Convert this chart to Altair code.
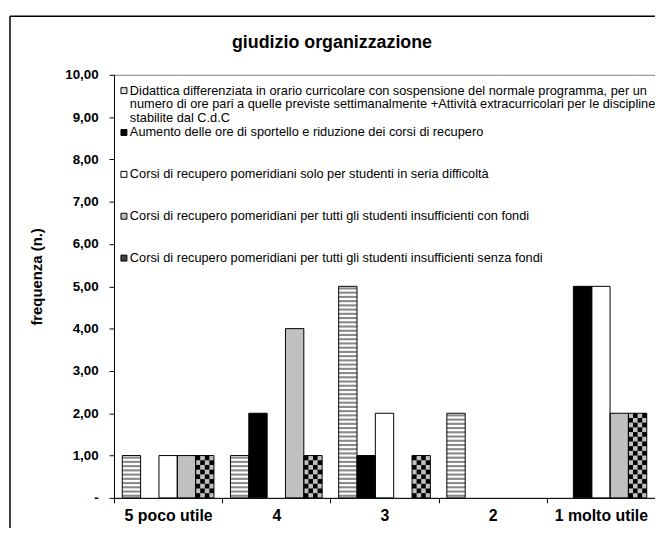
import altair as alt
import pandas as pd

# ---------------- data ----------------
categories = ["5 poco utile", "4", "3", "2", "1 molto utile"]
series = [
    "Didattica differenziata in orario curricolare con sospensione del normale programma, per un numero di ore pari a quelle previste settimanalmente +Attività extracurricolari per le discipline stabilite dal C.d.C",
    "Aumento delle ore di sportello e riduzione dei corsi di recupero",
    "Corsi di recupero pomeridiani solo per studenti in seria difficoltà",
    "Corsi di recupero pomeridiani per tutti gli studenti insufficienti con fondi",
    "Corsi di recupero pomeridiani per tutti gli studenti insufficienti senza fondi",
]
legend_labels = [
    "Didattica differenziata in orario curricolare con sospensione del normale programma, per un\n"
    "numero di ore pari a quelle previste settimanalmente +Attività extracurricolari per le discipline\n"
    "stabilite dal C.d.C",
    "Aumento delle ore di sportello e riduzione dei corsi di recupero",
    "Corsi di recupero pomeridiani solo per studenti in seria difficoltà",
    "Corsi di recupero pomeridiani per tutti gli studenti insufficienti con fondi",
    "Corsi di recupero pomeridiani per tutti gli studenti insufficienti senza fondi",
]
didattica = [1, 1, 5, 2, 0]
sportello = [0, 2, 1, 0, 5]
seria_difficolta = [1, 0, 2, 0, 5]
con_fondi = [1, 4, 0, 0, 2]
senza_fondi = [1, 1, 1, 0, 2]
y_ticks = [0, 1, 2, 3, 4, 5, 6, 7, 8, 9, 10]

values = [didattica, sportello, seria_difficolta, con_fondi, senza_fondi]

# ---------------- styles ----------------
base_colors = ["#ffffff", "#000000", "#ffffff", "#c0c0c0", "#c0c0c0"]
symbol_colors = ["#e4e4e4", "#000000", "#ffffff", "#c0c0c0", "#404040"]
FONT = "Liberation Sans"
W, H = 546, 427

rows = []
for s, vals in zip(series, values):
    for c, v in zip(categories, vals):
        rows.append({"cat": c, "series": s, "v": v})
df = pd.DataFrame(rows)
df = df[df.v > 0]

# striped pattern for the first series (derived from its values)
stripe_rows = []
for c, v in zip(categories, didattica):
    for k in range(int(round(v * 10))):
        stripe_rows.append({"cat": c, "series": series[0], "y0": k / 10 + 0.025, "y1": k / 10 + 0.075})
df_stripes = pd.DataFrame(stripe_rows)

# checker pattern for the last series (derived from its values)
subs = ["padL"] + [f"{i}_{j}" for i in range(len(series)) for j in range(4)] + ["padR"]
checker_rows = []
for c, v in zip(categories, senza_fondi):
    n = int(round(v * 9))
    for r in range(n):
        for j in range(4):
            if (r + j) % 2 == 0:
                checker_rows.append({"cat": c, "sub": f"4_{j}", "y0": r / 9, "y1": (r + 1) / 9})
df_checker = pd.DataFrame(checker_rows)

x_scale = alt.Scale(domain=categories, paddingInner=0, paddingOuter=0)
y_scale = alt.Scale(domain=[0, 10], nice=False, zero=True)
xoff_scale = alt.Scale(domain=series, paddingInner=0, paddingOuter=0.45)

x_axis = alt.Axis(
    title=None, tickBand="extent", labelAngle=0, labelFontSize=16, labelFontWeight="bold",
    labelFont=FONT, labelColor="black", labelPadding=5, tickSize=5, tickColor="black",
    domainColor="black", grid=False,
)
nb = "\u00a0"
y_axis = alt.Axis(
    values=y_ticks, grid=False, title="frequenza (n.)",
    labelExpr="datum.value == 0 ? '-" + nb * 6 + "' : replace(format(datum.value, '.2f'), '.', ',')",
    labelFontSize=13.5, labelFontWeight="bold", labelFont=FONT, labelColor="black",
    labelPadding=11, tickSize=5, tickColor="black", domainColor="black",
    titleFont=FONT, titleFontSize=15, titleFontWeight="bold", titleColor="black",
    titleX=-78, titleY=H / 2 - 10, titleAngle=270, titleAlign="center", titleBaseline="middle",
)

base = alt.Chart(df).mark_bar(strokeWidth=0).encode(
    x=alt.X("cat:N", scale=x_scale, axis=x_axis, sort=categories),
    xOffset=alt.XOffset("series:N", scale=xoff_scale, sort=series),
    y=alt.Y("v:Q", scale=y_scale, axis=y_axis),
    color=alt.Color("series:N", scale=alt.Scale(domain=series, range=base_colors), legend=None),
)

stripes = alt.Chart(df_stripes).mark_bar(color="#8a8a8a", strokeWidth=0).encode(
    x=alt.X("cat:N", scale=x_scale, sort=categories),
    xOffset=alt.XOffset("series:N", scale=xoff_scale, sort=series),
    y=alt.Y("y0:Q", scale=y_scale),
    y2="y1:Q",
)

checker = alt.Chart(df_checker).mark_bar(color="#000000", strokeWidth=0).encode(
    x=alt.X("cat:N", scale=x_scale, sort=categories),
    xOffset=alt.XOffset("sub:N", scale=alt.Scale(domain=subs, paddingInner=0, paddingOuter=0.8), sort=subs),
    y=alt.Y("y0:Q", scale=y_scale),
    y2="y1:Q",
)

outline = alt.Chart(df).mark_bar(fillOpacity=0, stroke="black", strokeWidth=1).encode(
    x=alt.X("cat:N", scale=x_scale, sort=categories),
    xOffset=alt.XOffset("series:N", scale=xoff_scale, sort=series),
    y=alt.Y("v:Q", scale=y_scale),
)

# legend drawn inside the plot area (layout positions only)
legend_layers = []
for i, (s, lab) in enumerate(zip(series, legend_labels)):
    ypos = 16 + 42.25 * i
    one = pd.DataFrame({"series": [s], "label": [lab]})
    legend_layers.append(
        alt.Chart(one).mark_square(size=36, stroke="black", strokeWidth=1, opacity=1, filled=True,
                                   color=symbol_colors[i]).encode(x=alt.value(10), y=alt.value(ypos))
    )
    legend_layers.append(
        alt.Chart(one).mark_text(align="left", baseline="middle", lineBreak="\n", lineHeight=14,
                                 fontSize=12.9, font=FONT, color="black")
        .encode(x=alt.value(16), y=alt.value(ypos), text="label:N")
    )

frame_df = pd.DataFrame({"k": [0]})
frame_top = alt.Chart(frame_df).mark_rule(color="black", strokeWidth=1.5).encode(
    x=alt.value(-105), x2=alt.value(W + 20), y=alt.value(-59)
)
frame_left = alt.Chart(frame_df).mark_rule(color="black", strokeWidth=1.5).encode(
    x=alt.value(-105), y=alt.value(-59), y2=alt.value(H + 60)
)

chart = (
    alt.layer(base, stripes, checker, outline, *legend_layers, frame_top, frame_left)
    .resolve_scale(xOffset="independent")
    .properties(
        width=W, height=H,
        title=alt.TitleParams(
            "giudizio organizzazione", fontSize=18, font=FONT, fontWeight="bold", color="black",
            frame="group", anchor="middle", dx=-53, offset=-46, baseline="middle",
        ),
        autosize=alt.AutoSizeParams(type="none"),
        padding={"left": 107, "top": 65, "right": 0, "bottom": 28},
    )
    .configure(background="white")
    .configure_view(stroke="#808080", strokeWidth=1)
)

chart.save("out.html", embed_options={"renderer": "svg", "actions": False})
